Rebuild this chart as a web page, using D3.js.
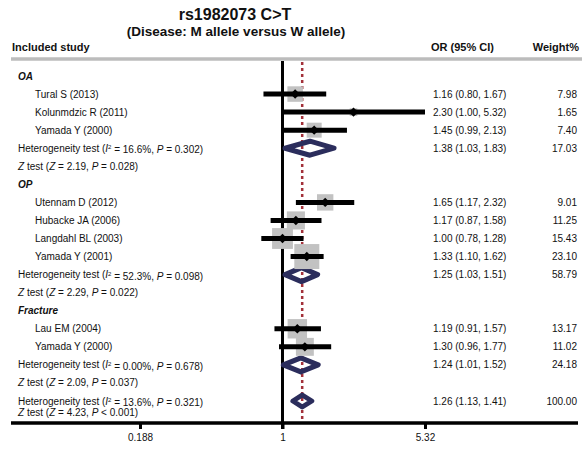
<!DOCTYPE html>
<html>
<head>
<meta charset="utf-8">
<script src="https://cdn.jsdelivr.net/npm/d3@7"></script>
<style>
  body { margin: 0; background: #fff; }
  svg text { font-family: "Liberation Sans", Arial, sans-serif; fill: #111; }
</style>
</head>
<body>
<svg id="forest"></svg>
<script>
var width = 582, height = 449;

// data
var groups = ["OA", "OP", "Fracture"];
var studyNames = ["Tural S (2013)", "Kolunmdzic R (2011)", "Yamada Y (2000)",
  "Utennam D (2012)", "Hubacke JA (2006)", "Langdahl BL (2003)", "Yamada Y (2001)",
  "Lau EM (2004)", "Yamada Y (2000)"];
var studyGroup = ["OA", "OA", "OA", "OP", "OP", "OP", "OP", "Fracture", "Fracture"];
var studyOR = [1.16, 2.30, 1.45, 1.65, 1.17, 1.00, 1.33, 1.19, 1.30];
var studyLo = [0.80, 1.00, 0.99, 1.17, 0.87, 0.78, 1.10, 0.91, 0.96];
var studyHi = [1.67, 5.32, 2.13, 2.32, 1.58, 1.28, 1.62, 1.57, 1.77];
var studyWeight = [7.98, 1.65, 7.40, 9.01, 11.25, 15.43, 23.10, 13.17, 11.02];

// pooled: OA, OP, Fracture, overall
var pooledOR = [1.38, 1.25, 1.24, 1.26];
var pooledLo = [1.03, 1.03, 1.01, 1.13];
var pooledHi = [1.83, 1.51, 1.52, 1.41];
var pooledWeight = [17.03, 58.79, 24.18, 100.00];
var hetI2 = ["16.6%", "52.3%", "0.00%", "13.6%"];
var hetP = ["0.302", "0.098", "0.678", "0.321"];
var zValue = ["2.19", "2.29", "2.09", "4.23"];
var zP = ["= 0.028", "= 0.022", "= 0.037", "< 0.001"];

var tickValues = [0.188, 1, 5.32];

// build the row list
var rows = [];
var r = 0;
groups.forEach(function(g, gi) {
  rows.push({type: "group", label: g, row: r++});
  studyNames.forEach(function(n, i) {
    if (studyGroup[i] === g) rows.push({type: "study", i: i, row: r++});
  });
  rows.push({type: "het", p: gi, row: r++});
  rows.push({type: "z", p: gi, row: r++});
});
rows.push({type: "het", p: 3, row: r});
rows.push({type: "z", p: 3, row: r + 0.65});

var svg = d3.select("#forest")
  .attr("width", width)
  .attr("height", height);

var x = d3.scaleLog().domain([0.188, 5.32]).range([140, 425]);
var y = d3.scaleLinear().domain([0, 18]).range([76, 401]);
var side = d3.scalePow().exponent(0.45).domain([0, 23.1]).range([0, 25]);

var axisY = 423;

// titles
svg.append("text").attr("x", 235).attr("y", 20)
  .attr("text-anchor", "middle").style("font-size", "16px").style("font-weight", "bold")
  .text("rs1982073 C>T");
svg.append("text").attr("x", 236).attr("y", 36)
  .attr("text-anchor", "middle").style("font-size", "13.5px").style("font-weight", "bold")
  .text("(Disease: M allele versus W allele)");

var head = svg.append("g").style("font-size", "11px").style("font-weight", "bold");
head.append("text").attr("x", 12).attr("y", 51).text("Included study");
head.append("text").attr("x", 431).attr("y", 51).text("OR (95% CI)");
head.append("text").attr("x", 579).attr("y", 51).attr("text-anchor", "end").text("Weight%");

svg.append("line")
  .attr("x1", 11).attr("x2", 582).attr("y1", 59).attr("y2", 59)
  .attr("stroke", "#bcbcbc").attr("stroke-width", 3.5);

// null line
svg.append("line")
  .attr("x1", x(1)).attr("x2", x(1)).attr("y1", 61).attr("y2", axisY + 6)
  .attr("stroke", "#000").attr("stroke-width", 3);

// pooled estimate line
svg.append("line")
  .attr("x1", x(pooledOR[3])).attr("x2", x(pooledOR[3])).attr("y1", 62).attr("y2", axisY)
  .attr("stroke", "#a3313a").attr("stroke-width", 2.5).attr("stroke-dasharray", "3,3");

var studyRows = rows.filter(function(d) { return d.type === "study"; });
var hetRows = rows.filter(function(d) { return d.type === "het"; });

// pooled diamonds
svg.append("g").selectAll("path")
  .data(hetRows)
  .enter()
  .append("path")
    .attr("d", function(d) {
      var h = d.p === 3 ? 6 : 7, cy = y(d.row);
      return "M" + x(pooledLo[d.p]) + "," + cy +
        "L" + x(pooledOR[d.p]) + "," + (cy - h) +
        "L" + x(pooledHi[d.p]) + "," + cy +
        "L" + x(pooledOR[d.p]) + "," + (cy + h) + "Z";
    })
    .attr("fill", "none")
    .attr("stroke", "#2b2d5c")
    .attr("stroke-width", 5)
    .attr("stroke-linejoin", "round");

// weight squares
svg.append("g").selectAll("rect")
  .data(studyRows)
  .enter()
  .append("rect")
    .attr("x", function(d) { return x(studyOR[d.i]) - side(studyWeight[d.i]) / 2; })
    .attr("y", function(d) { return y(d.row) - side(studyWeight[d.i]) / 2; })
    .attr("width", function(d) { return side(studyWeight[d.i]); })
    .attr("height", function(d) { return side(studyWeight[d.i]); })
    .attr("fill", "#c2c2c2");

// CI bars
svg.append("g").selectAll("line")
  .data(studyRows)
  .enter()
  .append("line")
    .attr("x1", function(d) { return x(studyLo[d.i]); })
    .attr("x2", function(d) { return x(studyHi[d.i]); })
    .attr("y1", function(d) { return y(d.row); })
    .attr("y2", function(d) { return y(d.row); })
    .attr("stroke", "#000")
    .attr("stroke-width", 5);

// point estimates
svg.append("g").selectAll("path")
  .data(studyRows)
  .enter()
  .append("path")
    .attr("d", d3.symbol(d3.symbolSquare, 44))
    .attr("transform", function(d) {
      return "translate(" + x(studyOR[d.i]) + "," + y(d.row) + ") rotate(45)";
    })
    .attr("fill", "#000");

// left text column
var txt = svg.append("g").style("font-size", "10px");
rows.forEach(function(d) {
  var t = txt.append("text").attr("y", y(d.row)).attr("dy", "0.35em");
  if (d.type === "group") {
    t.attr("x", 18).style("font-weight", "bold").style("font-style", "italic").text(d.label);
  } else if (d.type === "study") {
    t.attr("x", 35).text(studyNames[d.i]);
  } else if (d.type === "het") {
    t.attr("x", 18);
    t.append("tspan").text("Heterogeneity test (");
    t.append("tspan").style("font-style", "italic").text("I");
    t.append("tspan").attr("dy", "-0.4em").style("font-size", "6px").text("2");
    t.append("tspan").attr("dy", "0.4em").text(" = " + hetI2[d.p] + ", ");
    t.append("tspan").style("font-style", "italic").text("P");
    t.append("tspan").text(" = " + hetP[d.p] + ")");
  } else {
    t.attr("x", 18);
    t.append("tspan").style("font-style", "italic").text("Z");
    t.append("tspan").text(" test (");
    t.append("tspan").style("font-style", "italic").text("Z");
    t.append("tspan").text(" = " + zValue[d.p] + ", ");
    t.append("tspan").style("font-style", "italic").text("P");
    t.append("tspan").text(" " + zP[d.p] + ")");
  }
});

// right columns
function ciText(o, l, h) {
  return o.toFixed(2) + " (" + l.toFixed(2) + ", " + h.toFixed(2) + ")";
}
studyRows.forEach(function(d) {
  txt.append("text").attr("x", 433).attr("y", y(d.row)).attr("dy", "0.35em")
    .text(ciText(studyOR[d.i], studyLo[d.i], studyHi[d.i]));
  txt.append("text").attr("x", 577).attr("y", y(d.row)).attr("dy", "0.35em")
    .attr("text-anchor", "end").text(studyWeight[d.i].toFixed(2));
});
hetRows.forEach(function(d) {
  txt.append("text").attr("x", 433).attr("y", y(d.row)).attr("dy", "0.35em")
    .text(ciText(pooledOR[d.p], pooledLo[d.p], pooledHi[d.p]));
  txt.append("text").attr("x", 577).attr("y", y(d.row)).attr("dy", "0.35em")
    .attr("text-anchor", "end").text(pooledWeight[d.p].toFixed(2));
});

// axis
svg.append("line")
  .attr("x1", 11).attr("x2", 578).attr("y1", axisY).attr("y2", axisY)
  .attr("stroke", "#000").attr("stroke-width", 3.5);

var axis = svg.append("g")
  .attr("transform", "translate(0," + axisY + ")")
  .call(d3.axisBottom(x).tickValues(tickValues).tickSize(6).tickSizeOuter(0)
    .tickFormat(function(d) { return String(d); }));
axis.select(".domain").remove();
axis.selectAll(".tick line").attr("stroke", "#000").attr("stroke-width", 3);
axis.selectAll(".tick text")
  .style("font-family", "Liberation Sans, Arial, sans-serif")
  .style("font-size", "10px").attr("fill", "#111").attr("dy", "0.9em");
</script>
</body>
</html>
